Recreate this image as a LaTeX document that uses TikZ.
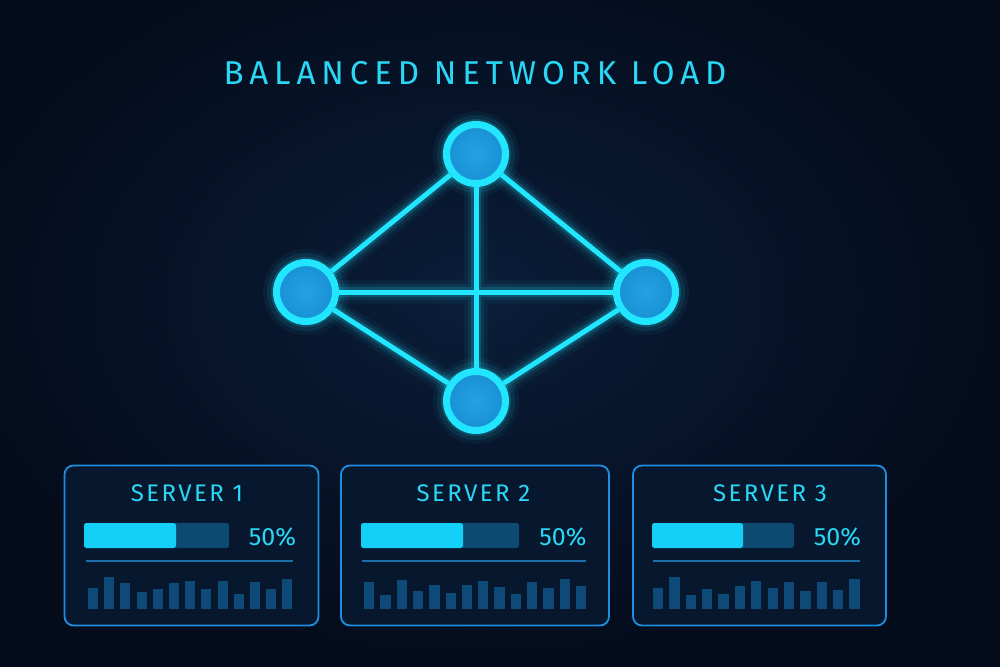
\documentclass[tikz,border=0pt]{standalone}
\usepackage{fontspec}
\setmainfont{Fira Sans}
\newfontfamily\titlefont[LetterSpace=18]{Fira Sans}
\newfontfamily\srvfont[LetterSpace=10]{Fira Sans}
\newfontfamily\pctfont{Fira Sans}
\definecolor{bgouter}{HTML}{040C1C}
\definecolor{bginner}{HTML}{0A1D38}
\definecolor{cyanline}{HTML}{22E6FF}
\definecolor{nodefill}{HTML}{1890D4}
\definecolor{nodecore}{HTML}{24A2E2}
\definecolor{cyantext}{HTML}{2AD8F6}
\definecolor{boxborder}{HTML}{1E8FE0}
\definecolor{boxfill}{HTML}{07172D}
\definecolor{track}{HTML}{0C4A72}
\definecolor{barfill}{HTML}{14D0F6}
\definecolor{minibar}{HTML}{0D4A78}
\definecolor{sepline}{HTML}{1D6EA8}
\pgfdeclarelayer{bgl}
\pgfdeclarelayer{glowl}
\pgfsetlayers{bgl,glowl,main}
\begin{document}
\begin{tikzpicture}[x=1pt,y=-1pt,
  netnode/.style={circle, minimum size=59pt, inner sep=0pt, line width=7pt, draw=cyanline, inner color=nodecore, outer color=nodefill},
  edge/.style={draw=cyanline, line width=5pt},
  glowA/.style={draw=cyanline, line width=24pt, opacity=0.05},
  glowB/.style={draw=cyanline, line width=16pt, opacity=0.09},
  glowC/.style={draw=cyanline, line width=10pt, opacity=0.16},
  srvbox/.style={draw=boxborder, fill=boxfill, line width=1.8pt, rounded corners=9pt, minimum height=160pt, inner sep=0pt},
  srvtext/.style={text=cyantext, font=\srvfont\fontsize{24}{24}\selectfont, inner sep=0pt},
  pcttext/.style={text=cyantext, font=\pctfont\fontsize{25}{25}\selectfont, inner sep=0pt},
  titletext/.style={text=cyantext, font=\titlefont\fontsize{33}{33}\selectfont, inner sep=0pt}
]
\begin{pgfonlayer}{bgl}
  \useasboundingbox (0,0) rectangle (1000,667);
  \fill[bgouter] (0,0) rectangle (1000,667);
  \begin{scope}
    \clip (0,0) rectangle (1000,667);
    \shade[inner color=bginner, outer color=bgouter] (476,300) ellipse (520pt and 360pt);
  \end{scope}
\end{pgfonlayer}

% title
\node[titletext] (title) at (475,73) {BALANCED NETWORK LOAD};

% network nodes
\node[netnode] (t) at (476,154) {};
\node[netnode] (l) at (306,292) {};
\node[netnode] (r) at (646,292) {};
\node[netnode] (b) at (476,401) {};

\begin{pgfonlayer}{glowl}
  \foreach \n in {t,l,r,b} {
    \draw[glowA] (\n.center) circle (31pt);
    \draw[glowB] (\n.center) circle (31pt);
    \draw[glowC] (\n.center) circle (30pt);
  }
  \draw[glowA] (t) -- (l) (t) -- (r) (t) -- (b) (l) -- (r) (l) -- (b) (r) -- (b);
  \draw[glowB] (t) -- (l) (t) -- (r) (t) -- (b) (l) -- (r) (l) -- (b) (r) -- (b);
  \draw[glowC] (t) -- (l) (t) -- (r) (t) -- (b) (l) -- (r) (l) -- (b) (r) -- (b);
\end{pgfonlayer}
\draw[edge] (t) -- (l);
\draw[edge] (t) -- (r);
\draw[edge] (t) -- (b);
\draw[edge] (l) -- (r);
\draw[edge] (l) -- (b);
\draw[edge] (r) -- (b);

% server boxes
\node[srvbox, minimum width=254pt] (s1) at (191.5,545.5) {};
\node[srvbox, minimum width=268pt] (s2) at (475,545.5) {};
\node[srvbox, minimum width=253pt] (s3) at (759.5,545.5) {};

\node[srvtext] (s1t) at (187,493.5) {SERVER 1};
\node[srvtext] (s2t) at (473.5,493.5) {SERVER 2};
\node[srvtext] (s3t) at (770,493.5) {SERVER 3};

\node[pcttext] (s1p) at (272.5,537) {50\%};
\node[pcttext] (s2p) at (563,537) {50\%};
\node[pcttext] (s3p) at (837.5,537) {50\%};

% progress bars
\fill[track, rounded corners=2.5pt] (84,523) rectangle (229,548);
\fill[barfill, rounded corners=2.5pt] (84,523) rectangle (176,548);
\fill[track, rounded corners=2.5pt] (361,523) rectangle (519,548);
\fill[barfill, rounded corners=2.5pt] (361,523) rectangle (463,548);
\fill[track, rounded corners=2.5pt] (652,523) rectangle (794,548);
\fill[barfill, rounded corners=2.5pt] (652,523) rectangle (743,548);

% separators
\draw[sepline, line width=1.2pt] (86,561) -- (293,561);
\draw[sepline, line width=1.2pt] (362,561) -- (586,561);
\draw[sepline, line width=1.2pt] (653,561) -- (860,561);

% mini bar charts
\foreach \h [count=\i from 0] in {587.7,577.3,583.3,592.3,589,582.7,581,588.7,581,594,581.7,589,579}
  \fill[minibar] ({88+\i*16.2},\h) rectangle ({98+\i*16.2},609);
\foreach \h [count=\i from 0] in {581.7,594.7,580,591,584.7,593,584.7,581,586.7,594.3,581.7,587.7,579,586}
  \fill[minibar] ({364+\i*16.3},\h) rectangle ({374.3+\i*16.3},609);
\foreach \h [count=\i from 0] in {587.7,577.3,594.7,589,594.3,585.7,581,588,581.7,591,582,590,579}
  \fill[minibar] ({653+\i*16.36},\h) rectangle ({663.3+\i*16.36},609);
\end{tikzpicture}
\end{document}
